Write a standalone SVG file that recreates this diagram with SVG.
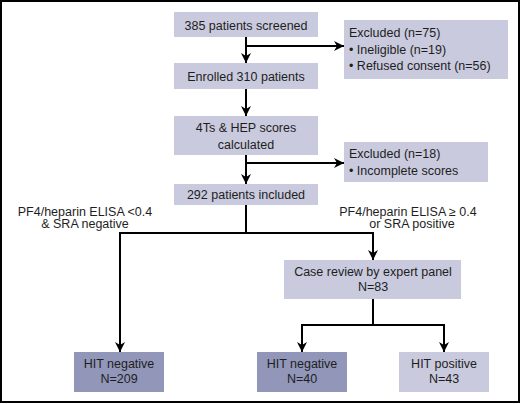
<svg xmlns="http://www.w3.org/2000/svg" width="520" height="404" viewBox="0 0 520 404">
<style>
.light{fill:#c9cadd}
.dark{fill:#9297b9}
text{font-family:"Liberation Sans",Arial,sans-serif;font-size:12.5px;fill:#1e1e1e}
.c{text-anchor:middle}
.ln{fill:none;stroke:#000;stroke-width:2}
</style>
<defs>
<marker id="ah" viewBox="0 0 10 10" refX="10" refY="5" markerWidth="10" markerHeight="10" markerUnits="userSpaceOnUse" orient="auto">
<path d="M0,0 L10,5 L0,10 L3,5 Z" fill="#000"/>
</marker>
</defs>
<rect x="1" y="1" width="518" height="401" fill="#fff" stroke="#000" stroke-width="2"/>
<g id="n1"><rect class="light" x="174" y="12" width="144" height="25"/><text class="c" x="246" y="29.5">385 patients screened</text></g>
<g id="ex1"><rect class="light" x="344" y="20" width="164" height="59"/><text x="349" y="37">Excluded (n=75)</text><text x="349" y="54">• Ineligible (n=19)</text><text x="349" y="70">• Refused consent (n=56)</text></g>
<g id="n2"><rect class="light" x="174" y="63" width="144" height="26"/><text class="c" x="246" y="81">Enrolled 310 patients</text></g>
<g id="n3"><rect class="light" x="174" y="116" width="144" height="39"/><text class="c" x="246" y="132">4Ts &amp; HEP scores</text><text class="c" x="246" y="148.5">calculated</text></g>
<g id="ex2"><rect class="light" x="344" y="142" width="144" height="40"/><text x="349" y="158">Excluded (n=18)</text><text x="349" y="174.5">• Incomplete scores</text></g>
<g id="n4"><rect class="light" x="174" y="184" width="144" height="21"/><text class="c" x="246" y="198.5">292 patients included</text></g>
<g id="lblL"><text class="c" x="85" y="215.5">PF4/heparin ELISA &lt;0.4</text><text class="c" x="85" y="228">&amp; SRA negative</text></g>
<g id="lblR"><text class="c" x="408" y="215.5">PF4/heparin ELISA ≥ 0.4</text><text class="c" x="412" y="228">or SRA positive</text></g>
<g id="n5"><rect class="light" x="284" y="260" width="177" height="39"/><text class="c" x="373" y="276">Case review by expert panel</text><text class="c" x="373" y="291">N=83</text></g>
<g id="n6"><rect class="dark" x="74" y="352" width="90" height="40"/><text class="c" x="119" y="368">HIT negative</text><text class="c" x="119" y="383">N=209</text></g>
<g id="n7"><rect class="dark" x="257" y="352" width="90" height="40"/><text class="c" x="302" y="368">HIT negative</text><text class="c" x="302" y="383">N=40</text></g>
<g id="n8"><rect class="light" x="399" y="352" width="90" height="40"/><text class="c" x="444" y="368">HIT positive</text><text class="c" x="444" y="383">N=43</text></g>
<g id="connectors">
<path class="ln" d="M246,37 V63" marker-end="url(#ah)"/>
<path class="ln" d="M246,46 H344" marker-end="url(#ah)"/>
<path class="ln" d="M246,89 V116" marker-end="url(#ah)"/>
<path class="ln" d="M246,155 V184" marker-end="url(#ah)"/>
<path class="ln" d="M246,163 H344" marker-end="url(#ah)"/>
<path class="ln" d="M246,205 V233"/>
<path class="ln" d="M246,233 H120 V352" marker-end="url(#ah)"/>
<path class="ln" d="M246,233 H373 V260" marker-end="url(#ah)"/>
<path class="ln" d="M373,299 V325"/>
<path class="ln" d="M373,325 H302 V352" marker-end="url(#ah)"/>
<path class="ln" d="M373,325 H444 V352" marker-end="url(#ah)"/>
</g>
</svg>
